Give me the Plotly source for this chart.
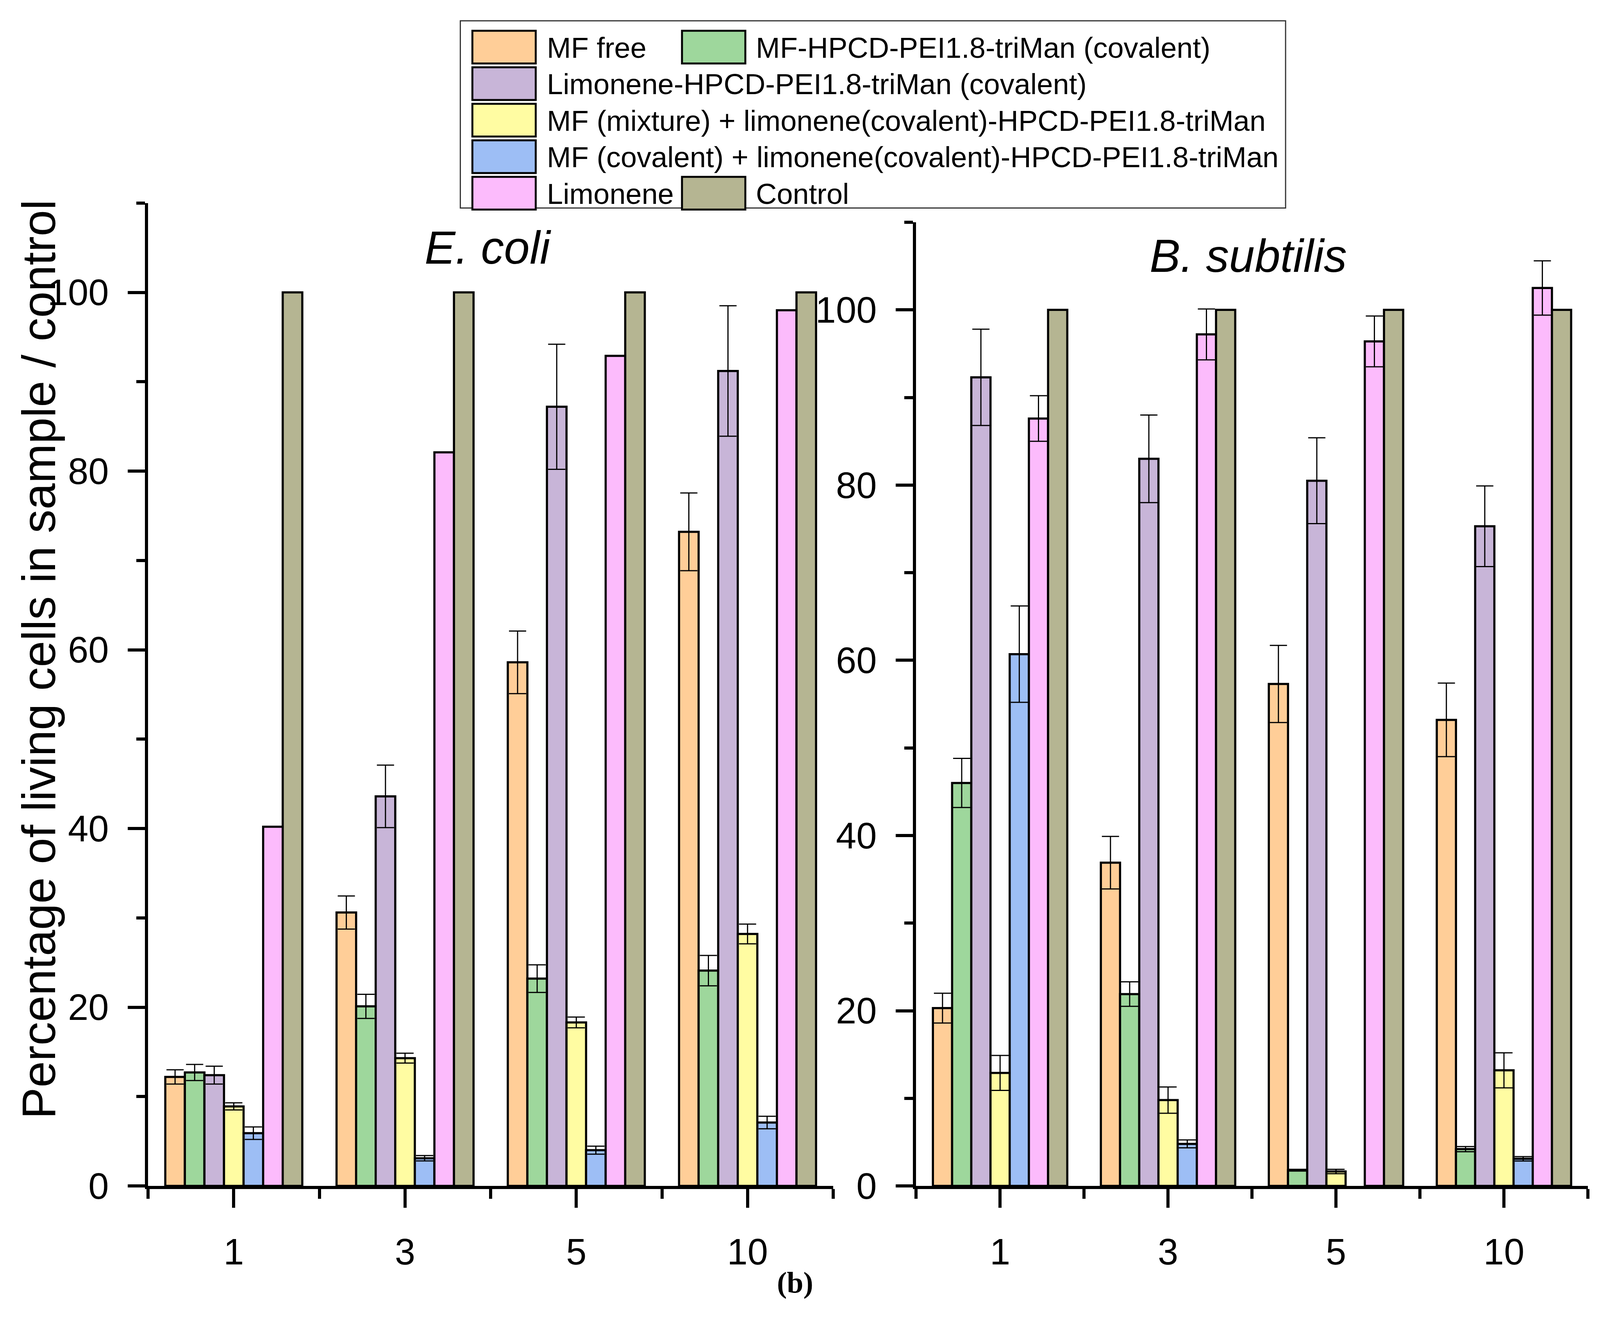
import plotly.graph_objects as go

# Data
categories = ["1", "3", "5", "10"]
series_names = [
    "MF free",
    "MF-HPCD-PEI1.8-triMan (covalent)",
    "Limonene-HPCD-PEI1.8-triMan (covalent)",
    "MF (mixture) + limonene(covalent)-HPCD-PEI1.8-triMan",
    "MF (covalent) + limonene(covalent)-HPCD-PEI1.8-triMan",
    "Limonene",
    "Control",
]
colors = ["#FFCE98", "#9ED79C", "#C8B5D8", "#FFFCA2", "#9DBEF5", "#FCBBFC", "#B5B592"]

# E. coli
ecoli_mf_free = [12.2, 30.6, 58.6, 73.2]
ecoli_mf_free_err = [0.8, 1.85, 3.5, 4.35]
ecoli_mf_hpcd = [12.7, 20.1, 23.2, 24.1]
ecoli_mf_hpcd_err = [0.9, 1.35, 1.55, 1.7]
ecoli_lim_hpcd = [12.4, 43.6, 87.2, 91.2]
ecoli_lim_hpcd_err = [1.0, 3.5, 7.0, 7.3]
ecoli_mf_mix = [8.9, 14.3, 18.3, 28.2]
ecoli_mf_mix_err = [0.4, 0.55, 0.6, 1.1]
ecoli_mf_cov = [5.9, 3.1, 4.0, 7.1]
ecoli_mf_cov_err = [0.7, 0.3, 0.45, 0.7]
ecoli_limonene = [40.2, 82.1, 92.9, 98.0]
ecoli_limonene_err = None
ecoli_control = [100, 100, 100, 100]
ecoli_control_err = None

# B. subtilis
bsub_mf_free = [20.3, 36.9, 57.3, 53.2]
bsub_mf_free_err = [1.7, 3.0, 4.4, 4.2]
bsub_mf_hpcd = [46.0, 21.9, 1.8, 4.2]
bsub_mf_hpcd_err = [2.8, 1.4, 0.1, 0.3]
bsub_lim_hpcd = [92.3, 83.0, 80.5, 75.3]
bsub_lim_hpcd_err = [5.5, 5.0, 4.9, 4.6]
bsub_mf_mix = [12.9, 9.8, 1.65, 13.2]
bsub_mf_mix_err = [2.0, 1.5, 0.25, 2.0]
bsub_mf_cov = [60.7, 4.8, None, 3.1]
bsub_mf_cov_err = [5.5, 0.45, None, 0.25]
bsub_limonene = [87.6, 97.2, 96.4, 102.5]
bsub_limonene_err = [2.6, 2.9, 2.9, 3.1]
bsub_control = [100, 100, 100, 100]
bsub_control_err = None

ecoli = [
    (ecoli_mf_free, ecoli_mf_free_err), (ecoli_mf_hpcd, ecoli_mf_hpcd_err),
    (ecoli_lim_hpcd, ecoli_lim_hpcd_err), (ecoli_mf_mix, ecoli_mf_mix_err),
    (ecoli_mf_cov, ecoli_mf_cov_err), (ecoli_limonene, ecoli_limonene_err),
    (ecoli_control, ecoli_control_err),
]
bsub = [
    (bsub_mf_free, bsub_mf_free_err), (bsub_mf_hpcd, bsub_mf_hpcd_err),
    (bsub_lim_hpcd, bsub_lim_hpcd_err), (bsub_mf_mix, bsub_mf_mix_err),
    (bsub_mf_cov, bsub_mf_cov_err), (bsub_limonene, bsub_limonene_err),
    (bsub_control, bsub_control_err),
]

# reference picture size; positions below are given in its pixels
W, H = 4244, 3410
FONT = "Liberation Sans, Arial, sans-serif"
xpos = list(range(len(categories)))

fig = go.Figure()

for panel, (xa, ya) in [(ecoli, ("x", "y")), (bsub, ("x2", "y2"))]:
    for i, (vals, errs) in enumerate(panel):
        err = None
        if errs is not None:
            err = dict(type="data", array=errs, symmetric=True, color="black",
                       thickness=3, width=22)
        fig.add_trace(go.Bar(
            x=xpos, y=vals, name=series_names[i], xaxis=xa, yaxis=ya,
            marker=dict(color=colors[i], line=dict(color="black", width=5.5)),
            error_y=err, showlegend=False,
        ))

xaxis_style = dict(
    range=[-0.5, 3.5], tickvals=xpos, ticktext=categories,
    showline=True, linecolor="black", linewidth=8, showgrid=False, zeroline=False,
    ticks="outside", ticklen=48, tickwidth=8, tickcolor="black",
    minor=dict(tick0=-0.5, dtick=1, ticks="outside", ticklen=25, tickwidth=8, tickcolor="black"),
    tickfont=dict(family=FONT, size=94, color="black"), ticklabelstandoff=32,
)
yaxis_style = dict(
    range=[0, 110], tick0=0, dtick=20,
    showline=True, linecolor="black", linewidth=8, showgrid=False, zeroline=False,
    ticks="outside", ticklen=44, tickwidth=8, tickcolor="black",
    minor=dict(tick0=0, dtick=10, ticks="outside", ticklen=22, tickwidth=8, tickcolor="black"),
    tickfont=dict(family=FONT, size=94, color="black"), ticklabelstandoff=30,
)

fig.update_layout(
    autosize=True,
    margin=dict(l=0, r=0, t=0, b=0),
    paper_bgcolor="white", plot_bgcolor="white",
    barmode="group", bargap=0.2, bargroupgap=0,
    showlegend=False,
    xaxis=dict(domain=[393 / W, 2210 / W], anchor="y", **xaxis_style),
    yaxis=dict(domain=[1 - 3084 / H, 1 - 528 / H], anchor="x", **yaxis_style),
    xaxis2=dict(domain=[2430 / W, 4212 / W], anchor="y2", **xaxis_style),
    yaxis2=dict(domain=[1 - 3084 / H, 1 - 578 / H], anchor="x2", **yaxis_style),
)


def note(x, y, text, size, family=FONT, **kw):
    fig.add_annotation(x=x / W, y=1 - y / H, xref="paper", yref="paper", text=text,
                       showarrow=False, xanchor=kw.pop("xanchor", "center"),
                       yanchor=kw.pop("yanchor", "middle"),
                       font=dict(family=family, size=size, color="black"), **kw)


# Panel titles, axis title, caption
note(1294, 644, "<i>E. coli</i>", 118)
note(3311, 665, "<i>B. subtilis</i>", 118)
note(103, 1714, "Percentage of living cells in sample / control", 121, textangle=-90)
note(2109, 3335, "<b>(b)</b>", 76, family="Liberation Serif, Times New Roman, serif")

# Legend drawn by hand (large swatches): (row, column) slot for each series
legend_slots = [(0, 0), (0, 1), (1, 0), (2, 0), (3, 0), (4, 0), (4, 1)]
fig.add_shape(type="rect", xref="paper", yref="paper",
              x0=1221 / W, x1=3410 / W, y0=1 - 541 / H, y1=1 - 54 / H,
              line=dict(color="#333333", width=3), fillcolor="white")
col_sw = [1253, 1809]
col_tx = [1448, 2003]
for i, (row, col) in enumerate(legend_slots):
    top = 80 + 95 * row
    fig.add_shape(type="rect", xref="paper", yref="paper",
                  x0=col_sw[col] / W, x1=(col_sw[col] + 168) / W,
                  y0=1 - (top + 85) / H, y1=1 - top / H,
                  line=dict(color="black", width=5), fillcolor=colors[i])
    note(col_tx[col], top + 44, series_names[i], 74, xanchor="left")

# fill the browser window exactly, whatever its size
fit_page = (
    "document.body.style.margin='0';document.body.style.overflow='hidden';"
    "var gd=document.getElementById('{plot_id}');"
    "gd.style.width='100vw';gd.style.height='100vh';Plotly.Plots.resize(gd);"
)
fig.write_html("out.html", default_width="100vw", default_height="100vh",
               config={"displayModeBar": False}, post_script=fit_page)
